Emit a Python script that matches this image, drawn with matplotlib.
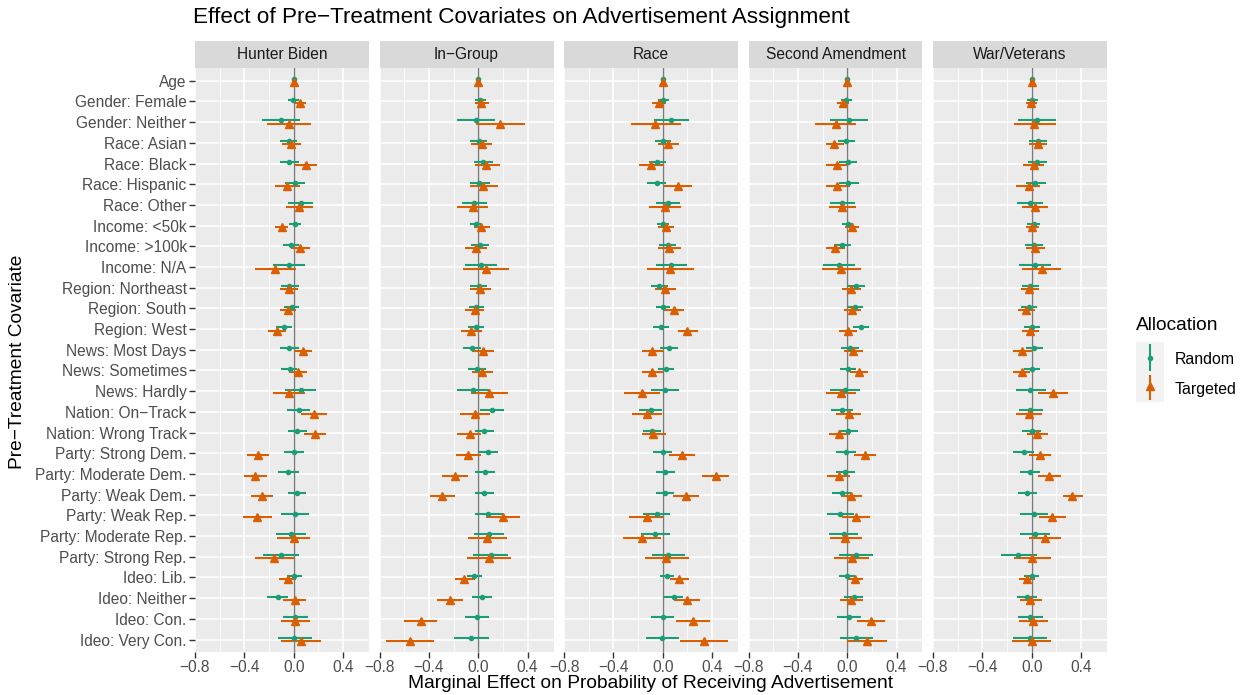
import matplotlib.pyplot as plt
import numpy as np

plt.rcParams["font.family"] = ["Liberation Sans", "DejaVu Sans"]

covariates = [
    "Age", "Gender: Female", "Gender: Neither", "Race: Asian", "Race: Black",
    "Race: Hispanic", "Race: Other", "Income: <50k", "Income: >100k", "Income: N/A",
    "Region: Northeast", "Region: South", "Region: West", "News: Most Days",
    "News: Sometimes", "News: Hardly", "Nation: On\u2212Track", "Nation: Wrong Track",
    "Party: Strong Dem.", "Party: Moderate Dem.", "Party: Weak Dem.", "Party: Weak Rep.",
    "Party: Moderate Rep.", "Party: Strong Rep.", "Ideo: Lib.", "Ideo: Neither",
    "Ideo: Con.", "Ideo: Very Con.",
]
panel_names = ["Hunter Biden", "In\u2212Group", "Race", "Second Amendment", "War/Veterans"]

# Hunter Biden
hb_rand = [0, -0.005, -0.10, -0.04, -0.04, 0.01, 0.055, 0.01, -0.02, -0.04, -0.035, -0.015, -0.075, -0.035,
           -0.03, 0.055, 0.04, 0.03, 0.0, -0.045, 0.025, 0.01, -0.02, -0.105, 0.0, -0.13, 0.01, 0.0]
hb_rand_lo = [-0.005, -0.05, -0.255, -0.11, -0.11, -0.07, -0.045, -0.04, -0.09, -0.17, -0.10, -0.08, -0.14, -0.11,
              -0.10, -0.07, -0.055, -0.045, -0.08, -0.125, -0.05, -0.10, -0.14, -0.245, -0.055, -0.215, -0.09, -0.13]
hb_rand_hi = [0.005, 0.04, 0.05, 0.03, 0.04, 0.09, 0.155, 0.055, 0.045, 0.095, 0.04, 0.045, -0.01, 0.04,
              0.03, 0.18, 0.135, 0.11, 0.08, 0.04, 0.10, 0.125, 0.10, 0.04, 0.065, -0.05, 0.115, 0.145]
hb_targ = [0, 0.05, -0.04, -0.02, 0.10, -0.055, 0.045, -0.095, 0.05, -0.15, -0.04, -0.045, -0.135, 0.075,
           0.035, -0.035, 0.165, 0.17, -0.29, -0.31, -0.26, -0.30, 0.0, -0.16, -0.05, 0.01, 0.01, 0.06]
hb_targ_lo = [-0.01, 0.0, -0.22, -0.095, 0.01, -0.15, -0.06, -0.15, -0.025, -0.315, -0.115, -0.115, -0.205, 0.0,
              -0.035, -0.165, 0.055, 0.085, -0.38, -0.405, -0.35, -0.415, -0.135, -0.31, -0.12, -0.085, -0.105, -0.105]
hb_targ_hi = [0.01, 0.097, 0.14, 0.06, 0.19, 0.05, 0.155, -0.045, 0.13, 0.015, 0.035, 0.02, -0.06, 0.15,
              0.11, 0.095, 0.27, 0.26, -0.2, -0.215, -0.17, -0.18, 0.135, 0.0, 0.02, 0.10, 0.135, 0.225]

# In-Group
ig_rand = [0, 0.015, -0.015, 0.005, 0.04, 0.01, -0.035, -0.02, 0.015, 0.02, 0.005, -0.015, -0.02, -0.05,
           -0.01, -0.045, 0.11, 0.05, 0.08, 0.055, 0.05, 0.08, 0.085, 0.10, -0.035, 0.03, -0.01, -0.055]
ig_rand_lo = [-0.005, -0.025, -0.17, -0.065, -0.035, -0.07, -0.135, -0.07, -0.055, -0.11, -0.065, -0.075, -0.085, -0.125,
              -0.08, -0.17, 0.015, -0.025, 0.0, -0.025, -0.03, -0.03, -0.035, -0.045, -0.09, -0.05, -0.11, -0.195]
ig_rand_hi = [0.005, 0.06, 0.14, 0.075, 0.12, 0.095, 0.075, 0.025, 0.085, 0.155, 0.07, 0.045, 0.05, 0.025,
              0.06, 0.085, 0.21, 0.13, 0.16, 0.14, 0.125, 0.2, 0.21, 0.24, 0.03, 0.115, 0.09, 0.085]
ig_targ = [0, 0.025, 0.175, 0.03, 0.065, 0.04, -0.045, 0.025, -0.02, 0.06, 0.015, -0.03, -0.055, 0.04,
           0.03, 0.09, -0.025, -0.07, -0.08, -0.19, -0.29, 0.2, 0.07, 0.085, -0.115, -0.23, -0.465, -0.555]
ig_targ_lo = [-0.01, -0.03, -0.02, -0.055, -0.03, -0.07, -0.17, -0.035, -0.11, -0.125, -0.07, -0.11, -0.14, -0.05,
              -0.05, -0.055, -0.15, -0.17, -0.18, -0.295, -0.39, 0.06, -0.08, -0.09, -0.19, -0.335, -0.6, -0.745]
ig_targ_hi = [0.01, 0.085, 0.38, 0.115, 0.175, 0.16, 0.08, 0.095, 0.07, 0.25, 0.105, 0.045, 0.03, 0.13,
              0.12, 0.24, 0.095, 0.025, 0.025, -0.08, -0.19, 0.335, 0.23, 0.265, -0.03, -0.12, -0.33, -0.36]

# Race
rc_rand = [0, 0.005, 0.07, 0.0, -0.045, -0.05, 0.045, 0.005, 0.04, 0.07, -0.03, 0.0, -0.015, 0.05,
           0.025, 0.02, -0.095, -0.085, 0.0, 0.02, 0.015, -0.05, -0.06, 0.045, 0.035, 0.09, 0.0, -0.005]
rc_rand_lo = [-0.005, -0.04, -0.07, -0.065, -0.115, -0.13, -0.055, -0.045, -0.03, -0.055, -0.095, -0.055, -0.08, -0.02,
              -0.035, -0.095, -0.19, -0.16, -0.075, -0.055, -0.055, -0.16, -0.18, -0.09, -0.02, 0.01, -0.095, -0.135]
rc_rand_hi = [0.005, 0.05, 0.215, 0.065, 0.03, 0.03, 0.14, 0.05, 0.11, 0.2, 0.04, 0.055, 0.05, 0.12,
              0.095, 0.135, -0.005, -0.015, 0.075, 0.1, 0.09, 0.055, 0.055, 0.18, 0.095, 0.165, 0.095, 0.13]
rc_targ = [0, -0.03, -0.06, 0.045, -0.095, 0.125, 0.02, 0.025, 0.05, 0.06, 0.02, 0.09, 0.2, -0.085,
           -0.085, -0.165, -0.125, -0.075, 0.155, 0.43, 0.185, -0.13, -0.17, 0.03, 0.135, 0.195, 0.245, 0.335]
rc_targ_lo = [-0.01, -0.085, -0.26, -0.04, -0.195, 0.01, -0.11, -0.035, -0.04, -0.125, -0.065, 0.01, 0.12, -0.17,
              -0.17, -0.315, -0.245, -0.17, 0.05, 0.32, 0.085, -0.27, -0.32, -0.14, 0.06, 0.09, 0.11, 0.14]
rc_targ_hi = [0.01, 0.025, 0.145, 0.135, 0.01, 0.24, 0.15, 0.095, 0.145, 0.25, 0.105, 0.17, 0.285, 0.01,
              0.0, -0.02, -0.005, 0.025, 0.26, 0.54, 0.29, 0.0, -0.015, 0.21, 0.215, 0.3, 0.385, 0.525]

# Second Amendment
sa_rand = [0, -0.01, 0.015, -0.01, 0.005, 0.01, -0.04, 0.003, -0.04, -0.07, 0.07, 0.065, 0.115, 0.025,
           0.01, -0.02, -0.045, 0.005, -0.01, -0.02, -0.045, -0.055, -0.03, 0.07, -0.005, 0.055, 0.015, 0.07]
sa_rand_lo = [-0.005, -0.05, -0.14, -0.075, -0.07, -0.07, -0.14, -0.045, -0.105, -0.2, 0.0, 0.005, 0.05, -0.05,
              -0.055, -0.14, -0.135, -0.07, -0.09, -0.095, -0.125, -0.165, -0.15, -0.065, -0.065, -0.025, -0.085, -0.06]
sa_rand_hi = [0.005, 0.035, 0.165, 0.06, 0.08, 0.095, 0.06, 0.045, 0.03, 0.06, 0.14, 0.125, 0.18, 0.095,
              0.075, 0.1, 0.05, 0.085, 0.07, 0.06, 0.03, 0.055, 0.085, 0.205, 0.06, 0.13, 0.115, 0.21]
sa_targ = [0, -0.035, -0.095, -0.105, -0.085, -0.08, -0.04, 0.04, -0.1, -0.05, 0.03, 0.04, 0.005, 0.05,
           0.095, -0.05, 0.015, -0.065, 0.145, -0.07, 0.03, 0.07, -0.015, 0.035, 0.06, 0.03, 0.195, 0.16]
sa_targ_lo = [-0.01, -0.085, -0.265, -0.175, -0.17, -0.175, -0.15, -0.015, -0.175, -0.205, -0.04, -0.025, -0.065, -0.025,
              0.025, -0.175, -0.09, -0.15, 0.055, -0.165, -0.05, -0.04, -0.14, -0.11, -0.005, -0.055, 0.08, 0.0]
sa_targ_hi = [0.01, 0.015, 0.07, -0.03, 0.0, 0.02, 0.07, 0.095, -0.02, 0.11, 0.11, 0.11, 0.08, 0.125,
              0.165, 0.07, 0.115, 0.02, 0.235, 0.02, 0.12, 0.185, 0.12, 0.18, 0.13, 0.125, 0.31, 0.32]

# War/Veterans
wv_rand = [0, 0.005, 0.04, 0.05, 0.045, 0.03, -0.015, 0.015, 0.02, 0.025, -0.01, -0.025, 0.005, 0.02,
           0.005, -0.01, -0.01, 0.0, -0.065, -0.015, -0.04, 0.015, 0.025, -0.11, 0.0, -0.04, -0.01, -0.015]
wv_rand_lo = [-0.005, -0.04, -0.115, -0.02, -0.03, -0.05, -0.12, -0.035, -0.055, -0.105, -0.08, -0.085, -0.06, -0.05,
              -0.065, -0.13, -0.105, -0.08, -0.15, -0.095, -0.115, -0.095, -0.095, -0.25, -0.065, -0.12, -0.11, -0.155]
wv_rand_hi = [0.005, 0.05, 0.195, 0.125, 0.12, 0.115, 0.09, 0.07, 0.09, 0.16, 0.06, 0.04, 0.07, 0.095,
              0.07, 0.115, 0.09, 0.075, 0.015, 0.065, 0.04, 0.13, 0.145, 0.04, 0.06, 0.045, 0.095, 0.125]
wv_targ = [0, -0.005, 0.02, 0.05, 0.015, -0.025, 0.025, 0.005, 0.025, 0.085, -0.02, -0.045, -0.01, -0.075,
           -0.075, 0.17, -0.02, 0.045, 0.065, 0.14, 0.33, 0.165, 0.105, 0.005, -0.04, -0.01, 0.01, 0.0]
wv_targ_lo = [-0.01, -0.05, -0.145, -0.025, -0.07, -0.125, -0.08, -0.05, -0.05, -0.075, -0.09, -0.11, -0.08, -0.15,
              -0.15, 0.05, -0.125, -0.04, -0.02, 0.05, 0.25, 0.055, -0.02, -0.145, -0.105, -0.095, -0.105, -0.16]
wv_targ_hi = [0.01, 0.045, 0.195, 0.12, 0.1, 0.07, 0.135, 0.06, 0.105, 0.24, 0.055, 0.025, 0.06, 0.0,
              -0.01, 0.29, 0.08, 0.13, 0.155, 0.235, 0.415, 0.275, 0.235, 0.155, 0.03, 0.08, 0.13, 0.16]

panel_data = [
    (hb_rand, hb_rand_lo, hb_rand_hi, hb_targ, hb_targ_lo, hb_targ_hi),
    (ig_rand, ig_rand_lo, ig_rand_hi, ig_targ, ig_targ_lo, ig_targ_hi),
    (rc_rand, rc_rand_lo, rc_rand_hi, rc_targ, rc_targ_lo, rc_targ_hi),
    (sa_rand, sa_rand_lo, sa_rand_hi, sa_targ, sa_targ_lo, sa_targ_hi),
    (wv_rand, wv_rand_lo, wv_rand_hi, wv_targ, wv_targ_lo, wv_targ_hi),
]

GREEN = "#1B9E77"
ORANGE = "#D95F02"
W, H = 1244, 695
TICK_FS = 11.2
TITLE_FS = 13.8


def fx(x):
    return x / W


def fy(y):
    return 1 - y / H


fig = plt.figure(figsize=(W / 100, H / 100), dpi=100)

panel_left = [195, 379.5, 564, 748.5, 933]
panel_w = 174
top, bottom, strip_top = 68.3, 652, 41
rows = np.arange(len(covariates))
dodge = 0.08

for i, (name, data) in enumerate(zip(panel_names, panel_data)):
    r_est, r_lo, r_hi, t_est, t_lo, t_hi = data
    L = panel_left[i]
    ax = fig.add_axes([fx(L), fy(bottom), panel_w / W, (bottom - top) / H])
    ax.set_facecolor("#EBEBEB")
    ax.set_xlim(-0.80, 0.61)
    ax.set_ylim(len(covariates) - 1 + 0.6, -0.6)
    ax.set_xticks([-0.8, -0.4, 0.0, 0.4])
    ax.set_xticklabels(["\u22120.8", "\u22120.4", "0.0", "0.4"])
    ax.set_xticks([-0.6, -0.2, 0.2], minor=True)
    ax.set_yticks(rows)
    ax.set_yticklabels(covariates if i == 0 else [])
    ax.grid(which="major", color="white", lw=1.1)
    ax.grid(which="minor", axis="x", color="white", lw=0.55)
    ax.set_axisbelow(True)
    for s in ax.spines.values():
        s.set_visible(False)
    ax.tick_params(axis="x", which="major", length=4, width=1.0, color="#333333",
                   labelsize=TICK_FS, labelcolor="#4D4D4D", pad=2)
    ax.tick_params(axis="x", which="minor", length=0)
    ax.tick_params(axis="y", length=4 if i == 0 else 0, width=1.0, color="#333333",
                   labelsize=TICK_FS, labelcolor="#4D4D4D", pad=2)

    ax.axvline(0, color="#7A7A7A", lw=1.0, zorder=1.5)

    ax.hlines(rows - dodge, r_lo, r_hi, color=GREEN, lw=1.5, zorder=3)
    ax.plot(r_est, rows - dodge, "o", ms=3.0, color=GREEN, zorder=4)
    ax.hlines(rows + dodge, t_lo, t_hi, color=ORANGE, lw=1.5, zorder=3)
    ax.plot(t_est, rows + dodge, "^", ms=6.3, color=ORANGE, zorder=4)

    sax = fig.add_axes([fx(L), fy(top), panel_w / W, (top - strip_top) / H])
    sax.set_facecolor("#D9D9D9")
    sax.set_xticks([])
    sax.set_yticks([])
    for s in sax.spines.values():
        s.set_visible(False)
    sax.text(0.5, 0.5, name, ha="center", va="center", fontsize=TICK_FS,
             color="#1A1A1A", transform=sax.transAxes)

fig.text(fx(193), fy(18), "Effect of Pre\u2212Treatment Covariates on Advertisement Assignment",
         ha="left", va="center", fontsize=16.2, color="black")
fig.text(fx(18), fy(362), "Pre\u2212Treatment Covariate", rotation=90,
         ha="center", va="center", fontsize=TITLE_FS)
fig.text(fx(650), fy(684), "Marginal Effect on Probability of Receiving Advertisement",
         ha="center", va="center", fontsize=TITLE_FS)

# legend
fig.text(fx(1136), fy(326), "Allocation", ha="left", va="center", fontsize=TITLE_FS)
lax = fig.add_axes([fx(1136), fy(402), 28 / W, 60 / H])
lax.set_facecolor("#F2F2F2")
lax.set_xlim(0, 1)
lax.set_ylim(2, 0)
lax.set_xticks([])
lax.set_yticks([])
for s in lax.spines.values():
    s.set_visible(False)
lax.vlines(0.5, 0.05, 0.97, color=GREEN, lw=1.5)
lax.plot([0.5], [0.52], "o", ms=3.0, color=GREEN)
lax.vlines(0.5, 1.1, 1.93, color=ORANGE, lw=1.5)
lax.plot([0.5], [1.48], "^", ms=6.3, color=ORANGE)
fig.text(fx(1175), fy(359), "Random", ha="left", va="center", fontsize=11.4)
fig.text(fx(1175), fy(389), "Targeted", ha="left", va="center", fontsize=11.4)

fig.savefig("out.png", dpi=100)
